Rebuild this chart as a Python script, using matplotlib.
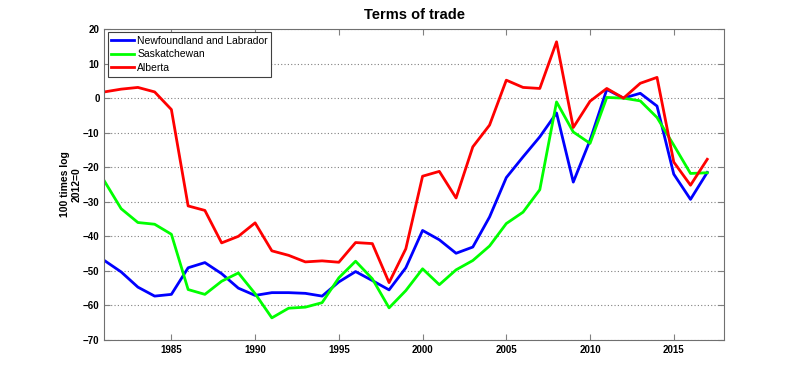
import numpy as np
import matplotlib.pyplot as plt

plt.rcParams['font.family'] = ['Liberation Sans', 'DejaVu Sans']

years = np.arange(1981, 2018)

# 100 times log, 2012 = 0
newfoundland = [-47, -50.3, -54.7, -57.3, -56.8, -49.1, -47.6, -50.8, -55, -57.1,
                -56.3, -56.3, -56.5, -57.3, -53.2, -50.2, -52.8, -55.5, -49.1, -38.3,
                -41, -44.9, -43.1, -34.4, -23, -17, -11.2, -4.3, -24.3, -12.2,
                2.5, 0, 1.4, -2.3, -22, -29.3, -21.5]
saskatchewan = [-24, -32, -36, -36.5, -39.4, -55.4, -56.8, -53, -50.6, -56.6,
                -63.6, -60.8, -60.5, -59.2, -52, -47.2, -52.3, -60.7, -55.7, -49.4,
                -54, -49.7, -47, -42.8, -36.3, -33, -26.5, -1.1, -9.8, -13.1,
                0.2, 0, -0.8, -5.6, -13.6, -21.8, -21.6]
alberta = [1.8, 2.6, 3.1, 1.8, -3.3, -31.2, -32.5, -41.9, -40, -36.1,
           -44.2, -45.5, -47.4, -47.1, -47.5, -41.8, -42.1, -53.4, -43.6, -22.6,
           -21.2, -28.9, -14.1, -7.8, 5.2, 3.1, 2.8, 16.3, -8.5, -0.9,
           2.8, 0, 4.3, 6, -18.5, -25.2, -17.7]

series = [("Newfoundland and Labrador", newfoundland, "#0000ff"),
          ("Saskatchewan", saskatchewan, "#00ff00"),
          ("Alberta", alberta, "#ff0000")]

fig = plt.figure(figsize=(8, 3.82), dpi=100)
ax = fig.add_axes([0.1305, 0.110, 0.7745, 0.814])

for name, vals, col in series:
    ax.plot(years, vals, color=col, lw=2, label=name)

ax.set_xlim(1981, 2018)
ax.set_ylim(-70, 20)
ax.set_xticks(range(1985, 2016, 5))
ax.set_yticks(range(-70, 21, 10))
ax.yaxis.grid(True, linestyle=(0, (1, 2)), color="#808080", lw=0.8)
ax.tick_params(direction="in", top=True, right=True, length=4,
               color="#808080", labelsize=7)
for lab in ax.get_xticklabels() + ax.get_yticklabels():
    lab.set_fontweight("bold")
for sp in ax.spines.values():
    sp.set_color("#707070")

ax.set_title("Terms of trade", fontsize=10.5, fontweight="bold", pad=7)
ax.set_ylabel("100 times log\n2012=0", fontsize=7.5, fontweight="bold", labelpad=1)

leg = ax.legend(loc="upper left", fontsize=7.5, fancybox=False, framealpha=1,
                edgecolor="#404040", borderaxespad=0.3, handlelength=2.2,
                handletextpad=0.3, labelspacing=0.35, borderpad=0.35)
leg.get_frame().set_linewidth(0.8)

fig.savefig("out.png", dpi=100)
